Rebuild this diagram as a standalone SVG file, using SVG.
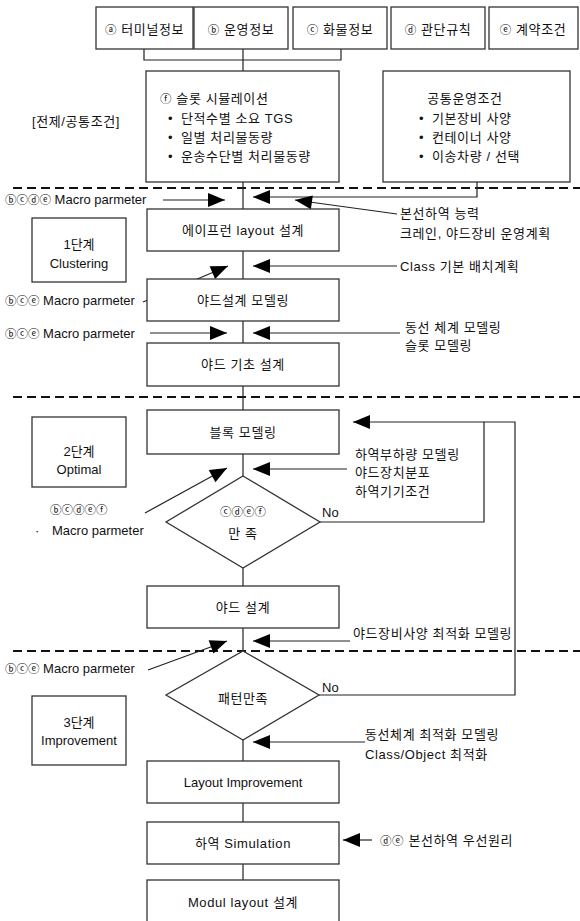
<svg xmlns="http://www.w3.org/2000/svg" width="580" height="921" viewBox="0 0 580 921">
<defs>
<style>
.box{fill:#fff;stroke:#333;stroke-width:1.3}
.ln{fill:none;stroke:#222;stroke-width:1.2}
.arr{marker-end:url(#ah)}
.dash{fill:none;stroke:#111;stroke-width:2;stroke-dasharray:9 5}
text{font-family:"Liberation Sans","Noto Sans CJK KR",sans-serif;font-size:13px;fill:#111}
.m{text-anchor:middle}
.c{font-size:11.5px;font-family:"Noto Sans CJK KR","DejaVu Sans",sans-serif}
.k{letter-spacing:0.6px}
</style>
<marker id="ah" markerUnits="userSpaceOnUse" markerWidth="18" markerHeight="16" viewBox="0 0 18 16" refX="17" refY="7" orient="auto" overflow="visible">
<path d="M0,0 L17,7 L0,14 z" fill="#000"/>
</marker>
</defs>
<rect width="580" height="921" fill="#fff"/>

<g id="separators">
<line class="dash" x1="13" y1="188" x2="580" y2="188"/>
<line class="dash" x1="13" y1="397" x2="580" y2="397"/>
<line class="dash" x1="13" y1="651" x2="580" y2="651"/>
</g>

<g id="connectors">
<path class="ln" d="M144,49 V60 H341 V49"/>
<path class="ln" d="M243,49 V71"/>
<path class="ln" d="M243,182 V209"/>
<path class="ln arr" d="M477,182 V197 H253"/>
<path class="ln arr" d="M163,200 H225"/>
<path class="ln arr" d="M397,214 L295,200"/>
<path class="ln" d="M243,251 V279"/>
<path class="ln arr" d="M397,266 H253"/>
<path class="ln arr" d="M143,302 L228,266"/>
<path class="ln" d="M243,321 V343"/>
<path class="ln arr" d="M150,333 H227"/>
<path class="ln arr" d="M400,333 H253"/>
<path class="ln" d="M243,386 V410"/>
<path class="ln" d="M243,454 V476"/>
<path class="ln arr" d="M145,513 L227,468"/>
<path class="ln arr" d="M347,469 H253"/>
<path class="ln arr" d="M320,522 H484 V422 H353"/>
<path class="ln" d="M319,695 H515 V422 H484"/>
<path class="ln" d="M243,568 V586"/>
<path class="ln" d="M243,628 V651"/>
<path class="ln arr" d="M148,670 L227,641"/>
<path class="ln arr" d="M350,641 H253"/>
<path class="ln" d="M243,740 V761"/>
<path class="ln arr" d="M365,742 H253"/>
<path class="ln" d="M243,803 V822"/>
<path class="ln" d="M243,864 V880"/>
<path class="ln arr" d="M372,840 H343"/>
</g>

<g id="node-a"><rect class="box" x="96" y="7" width="97" height="42"/><text class="m k" x="144.5" y="34"><tspan class="c">ⓐ</tspan> 터미널정보</text></g>
<g id="node-b"><rect class="box" x="194" y="7" width="94" height="42"/><text class="m k" x="241" y="34"><tspan class="c">ⓑ</tspan> 운영정보</text></g>
<g id="node-c"><rect class="box" x="293" y="7" width="94" height="42"/><text class="m k" x="340" y="34"><tspan class="c">ⓒ</tspan> 화물정보</text></g>
<g id="node-d"><rect class="box" x="391" y="7" width="94" height="42"/><text class="m k" x="438" y="34"><tspan class="c">ⓓ</tspan> 관단규칙</text></g>
<g id="node-e"><rect class="box" x="489" y="7" width="89" height="42"/><text class="m k" x="533" y="34"><tspan class="c">ⓔ</tspan> 계약조건</text></g>

<g id="label-premise"><text class="k" x="32" y="126">[전제/공통조건]</text></g>

<g id="node-f">
<rect class="box" x="146" y="71" width="193" height="111"/>
<text class="k" x="160" y="103"><tspan class="c">ⓕ</tspan> 슬롯 시뮬레이션</text>
<text x="168" y="123">•</text><text class="k" x="181" y="123">단적수별 소요 TGS</text>
<text x="168" y="142">•</text><text class="k" x="181" y="142">일별 처리물동량</text>
<text x="168" y="161">•</text><text class="k" x="181" y="161">운송수단별 처리물동량</text>
</g>

<g id="node-common">
<rect class="box" x="383" y="71" width="187" height="111"/>
<text class="m k" x="465" y="103">공통운영조건</text>
<text x="419" y="123">•</text><text class="k" x="432" y="123">기본장비 사양</text>
<text x="419" y="142">•</text><text class="k" x="432" y="142">컨테이너 사양</text>
<text x="419" y="161">•</text><text class="k" x="432" y="161">이송차량 / 선택</text>
</g>

<g id="labels-stage1">
<text x="5" y="204"><tspan class="c">ⓑⓒⓓⓔ</tspan> Macro parmeter</text>
<text class="k" x="400" y="218">본선하역 능력</text>
<text class="k" x="400" y="238">크레인, 야드장비 운영계획</text>
<text class="k" x="400" y="271">Class 기본 배치계획</text>
<text x="5" y="305"><tspan class="c">ⓑⓒⓔ</tspan> Macro parmeter</text>
<text x="5" y="338"><tspan class="c">ⓑⓒⓔ</tspan> Macro parmeter</text>
<text class="k" x="405" y="332">동선 체계 모델링</text>
<text class="k" x="405" y="350">슬롯 모델링</text>
</g>

<g id="stage1"><rect class="box" x="32" y="218" width="94" height="64"/><text class="m" x="79" y="249">1단계</text><text class="m" x="79" y="268">Clustering</text></g>
<g id="node-apron"><rect class="box" x="147" y="209" width="192" height="42"/><text class="m k" x="243" y="235">에이프런 layout 설계</text></g>
<g id="node-yard-model"><rect class="box" x="147" y="279" width="192" height="42"/><text class="m k" x="243" y="305">야드설계 모델링</text></g>
<g id="node-yard-basic"><rect class="box" x="147" y="343" width="192" height="43"/><text class="m k" x="243" y="369">야드 기초 설계</text></g>

<g id="stage2"><rect class="box" x="32" y="417" width="94" height="70"/><text class="m" x="79" y="456">2단계</text><text class="m" x="79" y="474">Optimal</text></g>
<g id="node-block"><rect class="box" x="147" y="410" width="192" height="44"/><text class="m k" x="243" y="437">블록 모델링</text></g>
<g id="node-satisfy"><polygon class="box" points="243,476 320,522 243,568 166,522"/><text class="m c" x="243" y="516">ⓒⓓⓔⓕ</text><text class="m k" x="243" y="538">만 족</text></g>
<g id="labels-stage2">
<text class="k" x="355" y="459">하역부하량 모델링</text>
<text class="k" x="355" y="477">야드장치분포</text>
<text class="k" x="355" y="496">하역기기조건</text>
<text x="322" y="517">No</text>
<text class="c" x="50" y="514">ⓑⓒⓓⓔⓕ</text>
<text x="35" y="535">·</text><text x="52" y="535">Macro parmeter</text>
</g>
<g id="node-yard-design"><rect class="box" x="147" y="586" width="192" height="42"/><text class="m k" x="243" y="612">야드 설계</text></g>

<g id="labels-stage3">
<text class="k" x="353" y="638">야드장비사양 최적화 모델링</text>
<text x="5" y="673"><tspan class="c">ⓑⓒⓔ</tspan> Macro parmeter</text>
<text x="322" y="692">No</text>
<text class="k" x="365" y="739">동선체계 최적화 모델링</text>
<text class="k" x="365" y="759">Class/Object 최적화</text>
<text class="k" x="380" y="845"><tspan class="c">ⓓⓔ</tspan> 본선하역 우선원리</text>
</g>
<g id="stage3"><rect class="box" x="32" y="696" width="94" height="69"/><text class="m" x="79" y="727">3단계</text><text class="m" x="79" y="745">Improvement</text></g>
<g id="node-pattern"><polygon class="box" points="243,651 319,695 243,740 166,695"/><text class="m k" x="243" y="703">패턴만족</text></g>
<g id="node-layout-imp"><rect class="box" x="147" y="761" width="192" height="42"/><text class="m" x="243" y="787">Layout Improvement</text></g>
<g id="node-sim"><rect class="box" x="147" y="822" width="192" height="42"/><text class="m k" x="243" y="848">하역 Simulation</text></g>
<g id="node-modul"><rect class="box" x="147" y="880" width="192" height="45"/><text class="m k" x="243" y="907">Modul layout 설계</text></g>
</svg>
